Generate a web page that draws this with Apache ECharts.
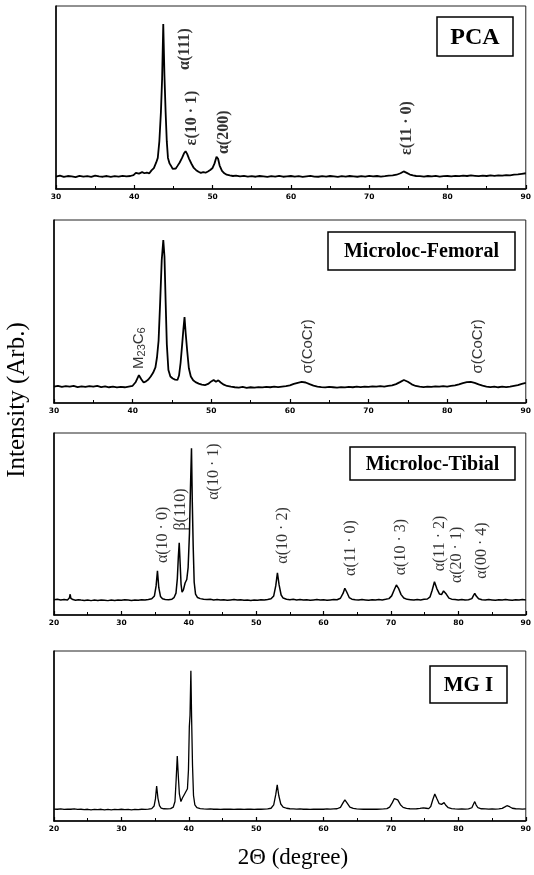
<!DOCTYPE html>
<html>
<head>
<meta charset="utf-8">
<script src="https://cdn.jsdelivr.net/npm/echarts@6/dist/echarts.min.js"></script>
<style>
html,body{margin:0;padding:0;background:#fff;}
#chart{width:534px;height:875px;}
</style>
</head>
<body>
<div id="chart"></div>
<script>
// ---------- DATA (2θ in degrees, intensity in arbitrary units 0-100) ----------
const panelTitles = ['PCA', 'Microloc-Femoral', 'Microloc-Tibial', 'MG I'];
const xRanges = [[30, 90], [30, 90], [20, 90], [20, 90]];
const xTickStep = 10;

const pca = [
[30,6.8],[30.5,7.3],[31,6.6],[31.5,7.1],[32,6.9],[32.5,6.5],[33,7.2],[33.5,6.8],[34,7.0],[34.5,6.6],
[35,7.3],[35.5,6.9],[36,6.7],[36.5,7.1],[37,6.6],[37.5,7.0],[38,6.8],[38.5,7.2],[39,6.9],[39.5,7.1],
[39.9,7.6],[40.2,8.8],[40.6,8.4],[41,9.2],[41.3,8.6],[41.6,9.0],[41.9,8.5],[42.2,10.2],[42.5,11.4],[42.8,14.5],
[43.0,17],[43.2,26],[43.4,42],[43.55,60],[43.7,90.2],[43.85,62],[44.0,42],[44.15,26],[44.3,17],[44.5,14],
[44.7,12.6],[44.9,11],[45.1,10.4],[45.3,11.2],[45.5,12.5],[45.8,14.5],[46.1,17],[46.35,19.5],[46.55,20.6],[46.75,19.2],
[47.0,16.5],[47.3,13.8],[47.6,11.5],[47.9,10.3],[48.2,9.4],[48.5,8.8],[48.8,9.2],[49.1,8.9],[49.4,9.6],[49.7,10.4],
[50.0,11.5],[50.25,14],[50.5,17.6],[50.7,16.5],[50.9,12.8],[51.2,9.9],[51.5,8.6],[51.8,7.8],[52.2,7.4],[52.6,7.1],
[53,7.3],[53.5,6.9],[54,7.2],[54.5,6.8],[55,7.0],[55.5,6.7],[56,7.1],[56.5,6.9],[57,6.6],[57.5,7.0],
[58,6.8],[58.5,7.2],[59,6.7],[59.5,6.9],[60,7.1],[60.5,6.8],[61,7.0],[61.5,6.6],[62,6.9],[62.5,7.2],
[63,6.8],[63.5,6.7],[64,7.0],[64.5,6.8],[65,7.1],[65.5,6.9],[66,6.6],[66.5,7.0],[67,6.8],[67.5,7.1],
[68,6.9],[68.5,6.7],[69,7.0],[69.5,6.8],[70,7.2],[70.5,6.9],[71,7.1],[71.5,6.8],[72,7.0],[72.5,7.3],
[73,7.4],[73.5,7.8],[74.0,8.6],[74.4,9.6],[74.8,8.8],[75.2,7.9],[75.6,7.4],[76,7.1],[76.5,7.0],[77,6.8],
[77.5,7.1],[78,6.9],[78.5,7.2],[79,6.8],[79.5,7.0],[80,7.1],[80.5,6.9],[81,7.2],[81.5,7.0],[82,7.3],
[82.5,7.1],[83,7.4],[83.5,7.2],[84,7.0],[84.5,7.3],[85,7.1],[85.5,7.4],[86,7.2],[86.5,7.5],[87,7.3],
[87.5,7.6],[88,7.5],[88.5,7.8],[89,8.0],[89.5,8.3],[90,8.6]
];

const femoral = [
[30,9.0],[30.5,9.4],[31,8.8],[31.5,9.2],[32,8.9],[32.5,9.3],[33,8.7],[33.5,9.1],[34,8.8],[34.5,9.2],
[35,8.9],[35.5,9.3],[36,8.7],[36.5,9.1],[37,8.6],[37.5,8.9],[38,8.5],[38.5,8.8],[39,8.6],[39.5,9.0],
[40,9.4],[40.4,11.5],[40.8,15.2],[41.1,13.0],[41.4,11.2],[41.7,11.8],[42.0,12.8],[42.3,14.5],[42.6,16.5],[42.9,19.5],
[43.1,25],[43.3,34],[43.5,55],[43.7,78],[43.9,89],[44.05,80],[44.2,55],[44.35,32],[44.55,18],[44.8,14.5],
[45.1,13.4],[45.4,12.8],[45.7,12.6],[45.9,15],[46.1,22],[46.3,32],[46.45,40],[46.6,47],[46.75,38],[46.95,28],
[47.15,19],[47.4,14.5],[47.7,12.4],[48.0,11.4],[48.4,10.6],[48.8,10.0],[49.2,9.8],[49.6,10.4],[50.0,11.8],[50.3,12.6],
[50.6,11.6],[50.9,12.4],[51.2,11.2],[51.6,10.0],[52,9.3],[52.5,8.9],[53,8.6],[53.5,8.4],[54,8.8],[54.5,8.3],
[55,8.6],[55.5,8.4],[56,8.7],[56.5,8.5],[57,8.8],[57.5,8.6],[58,8.9],[58.5,8.7],[59,9.0],[59.5,9.2],
[60,9.6],[60.5,10.4],[61,11.0],[61.5,11.5],[62,11.2],[62.5,10.3],[63,9.5],[63.5,9.0],[64,8.7],[64.5,8.5],
[65,8.8],[65.5,8.6],[66,8.4],[66.5,8.7],[67,8.5],[67.5,8.8],[68,8.6],[68.5,8.9],[69,8.7],[69.5,9.0],
[70,8.8],[70.5,9.1],[71,8.9],[71.5,9.2],[72,9.0],[72.5,9.3],[73,9.6],[73.5,10.3],[74.0,11.4],[74.5,12.6],
[75.0,11.6],[75.5,10.2],[76,9.3],[76.5,8.9],[77,8.7],[77.5,9.0],[78,8.8],[78.5,9.1],[79,8.9],[79.5,9.2],
[80,9.0],[80.5,9.3],[81,9.6],[81.5,10.2],[82,10.9],[82.5,11.4],[83,11.6],[83.5,11.0],[84,10.2],[84.5,9.5],
[85,9.0],[85.5,8.7],[86,9.0],[86.5,8.6],[87,8.9],[87.5,8.7],[88,9.0],[88.5,9.4],[89,9.8],[89.5,10.5],[90,11.0]
];

const tibial = [
[20,8.4],[20.5,8.6],[21,8.2],[21.5,8.5],[22.0,8.3],[22.3,9.5],[22.4,11.4],[22.5,9.2],[22.8,8.5],[23.2,8.1],
[23.6,8.4],[24,8.2],[24.5,8.0],[25,8.3],[25.5,7.9],[26,8.2],[26.5,8.0],[27,8.3],[27.5,8.1],[28,7.9],
[28.5,8.2],[29,8.0],[29.5,8.3],[30,8.1],[30.5,8.4],[31,8.2],[31.5,8.0],[32,8.3],[32.5,8.1],[33,8.4],
[33.5,8.2],[34,8.5],[34.5,8.9],[34.9,10.5],[35.15,16],[35.35,24.3],[35.55,15],[35.8,10.2],[36.1,8.9],[36.5,8.5],
[37,8.4],[37.5,8.7],[37.8,9.5],[38.1,12],[38.3,20],[38.45,32],[38.58,39.7],[38.72,28],[38.85,17],[39.0,12.5],
[39.2,13.8],[39.45,17.6],[39.7,19.5],[39.9,26],[40.1,45],[40.25,70],[40.4,91.6],[40.52,62],[40.65,38],[40.8,18],
[41.0,11.5],[41.3,9.6],[41.7,9.0],[42.2,8.7],[42.7,8.5],[43.2,8.6],[43.7,8.3],[44.2,8.5],[44.7,8.2],[45.2,8.4],
[45.7,8.1],[46.2,8.3],[46.7,8.5],[47.2,8.2],[47.7,8.4],[48.2,8.1],[48.7,8.3],[49.2,8.0],[49.7,8.3],[50.2,8.1],
[50.7,8.4],[51.2,8.2],[51.7,8.5],[52.2,8.9],[52.6,10.5],[52.9,16],[53.15,23.2],[53.4,16.5],[53.7,11],[54.0,9.3],
[54.5,8.7],[55,8.4],[55.5,8.6],[56,8.3],[56.5,8.5],[57,8.2],[57.5,8.4],[58,8.1],[58.5,8.3],[59,8.5],
[59.5,8.2],[60,8.4],[60.5,8.1],[61,8.3],[61.5,8.5],[62,8.4],[62.5,9.2],[62.9,12],[63.15,14.7],[63.45,12.5],
[63.8,9.6],[64.2,8.7],[64.7,8.4],[65.2,8.2],[65.7,8.5],[66.2,8.3],[66.7,8.1],[67.2,8.4],[67.7,8.2],[68.2,8.5],
[68.7,8.3],[69.2,8.6],[69.7,9.0],[70.1,10.5],[70.5,14],[70.8,16.5],[71.1,14.8],[71.5,11.2],[71.9,9.3],[72.4,8.6],
[72.9,8.4],[73.4,8.2],[73.9,8.5],[74.4,8.3],[74.9,8.6],[75.4,8.8],[75.8,10],[76.1,13.5],[76.45,18.3],[76.8,14.5],
[77.2,11.5],[77.5,11.2],[77.8,13.2],[77.98,13.7],[78.2,11.5],[78.6,9.3],[79,8.7],[79.5,8.5],[80,8.3],[80.5,8.5],
[81,8.2],[81.5,8.4],[82.0,9.0],[82.25,10.8],[82.43,11.9],[82.65,10.4],[83.0,8.9],[83.5,8.4],[84,8.2],[84.5,8.5],
[85,8.3],[85.5,8.1],[86,8.4],[86.5,8.2],[87,8.5],[87.5,8.3],[88,8.1],[88.5,8.4],[89,8.2],[89.5,8.5],[90,8.3]
];

const mg1 = [
[20,7.0],[20.5,6.9],[21,7.1],[21.5,6.8],[22,7.0],[22.5,6.9],[23,7.1],[23.5,6.8],[24,6.9],[24.5,6.7],
[25,6.9],[25.5,6.6],[26,6.8],[26.5,6.7],[27,6.9],[27.5,6.6],[28,6.8],[28.5,6.6],[29,6.8],[29.5,6.7],
[30,6.9],[30.5,6.7],[31,6.8],[31.5,6.6],[32,6.8],[32.5,6.7],[33,6.9],[33.5,6.8],[34,7.0],[34.5,7.3],
[34.85,8.8],[35.05,13],[35.23,20.6],[35.42,13.5],[35.65,9.0],[35.9,7.6],[36.3,7.2],[36.8,7.1],[37.3,7.3],[37.7,8.2],
[37.95,11.5],[38.12,24],[38.29,38.2],[38.45,26],[38.6,16],[38.83,11.4],[39.05,13.5],[39.3,15.3],[39.57,16.3],[39.8,19],
[39.95,30],[40.08,55.5],[40.18,62],[40.31,88.4],[40.42,60],[40.55,33],[40.7,15],[40.9,9.5],[41.2,7.8],[41.7,7.3],
[42.2,7.1],[42.7,7.0],[43.2,7.1],[43.7,6.9],[44.2,7.0],[44.7,6.8],[45.2,7.0],[45.7,6.9],[46.2,7.0],[46.7,6.8],
[47.2,6.9],[47.7,7.0],[48.2,6.8],[48.7,6.9],[49.2,7.0],[49.7,6.8],[50.2,7.0],[50.7,6.9],[51.2,7.0],[51.7,7.1],
[52.2,7.5],[52.6,9.5],[52.9,15.5],[53.12,21.2],[53.35,15],[53.65,10],[54.0,8.2],[54.5,7.5],[55,7.2],[55.5,7.1],
[56,7.0],[56.5,7.1],[57,6.9],[57.5,7.0],[58,6.8],[58.5,7.0],[59,6.9],[59.5,7.0],[60,6.9],[60.5,7.1],
[61,7.0],[61.5,7.1],[62,7.2],[62.5,8.0],[62.9,10.8],[63.16,12.4],[63.5,10.5],[63.9,8.2],[64.4,7.4],[64.9,7.1],
[65.4,7.0],[65.9,6.9],[66.4,7.0],[66.9,6.9],[67.4,7.0],[67.9,6.9],[68.4,7.0],[68.9,7.1],[69.4,7.3],[69.8,8.2],
[70.2,10.8],[70.5,13.2],[70.72,13.9],[71.0,12.4],[71.4,9.6],[71.8,8.0],[72.3,7.4],[72.8,7.2],[73.3,7.1],[73.8,7.2],
[74.3,7.4],[74.8,7.7],[75.2,7.5],[75.6,7.3],[75.9,8.5],[76.2,12.5],[76.5,15.9],[76.8,13.2],[77.15,10.2],[77.5,9.8],
[77.75,10.7],[77.88,10.8],[78.1,9.4],[78.5,7.8],[79,7.3],[79.5,7.1],[80,7.0],[80.5,7.1],[81,7.0],[81.5,7.1],
[82.0,7.8],[82.25,10.0],[82.43,11.4],[82.62,9.5],[82.9,7.8],[83.4,7.2],[84,7.1],[84.5,7.0],[85,7.1],[85.5,7.0],
[86,7.1],[86.5,7.4],[86.9,8.3],[87.2,9.0],[87.38,9.0],[87.6,8.4],[88,7.5],[88.5,7.2],[89,7.1],[89.5,7.0],[90,7.1]
];

// peak annotations: [label text, 2θ, intensity-level where label is centred]
const pcaPeakLabels = [
  ['α(111)', 46.5, 76.5], ['ε(10 · 1)', 47.3, 38.8], ['α(200)', 51.4, 31], ['ε(11 · 0)', 74.8, 33.3]
];
const femoralPeakLabels = [
  ['M{s|23}C{s|6}', 40.8, 30], ['σ(CoCr)', 62.3, 30.9], ['σ(CoCr)', 83.9, 30.9]
];
const tibialPeakLabels = [
  ['α(10 · 0)', 36.1, 44], ['β(110)', 38.85, 58], ['α(10 · 1)', 43.65, 78.8], ['α(10 · 2)', 54.0, 43.7],
  ['α(11 · 0)', 64.1, 36.8], ['α(10 · 3)', 71.5, 37.3], ['α(11 · 2)', 77.25, 39.3], ['α(20 · 1)', 79.7, 33],
  ['α(00 · 4)', 83.4, 35.4]
];

const xAxisTitle = '2Θ (degree)';
const yAxisTitle = 'Intensity (Arb.)';

// ---------- LAYOUT ----------
const grids = [
  {left: 56, right: 4, top: 6, height: 183},
  {left: 54, right: 4, top: 220, height: 183},
  {left: 54, right: 8, top: 433, height: 182},
  {left: 54, right: 8, top: 651, height: 170}
];
const lineWidths = [1.8, 1.8, 1.5, 1.3];
const labelWeights = ['bold', 'normal', 'normal', 'normal'];
const boxes = [
  {x: 437, y: 17, w: 76, h: 39, size: 24},
  {x: 328, y: 232, w: 187, h: 38, size: 20},
  {x: 350, y: 447, w: 165, h: 33, size: 20},
  {x: 430, y: 666, w: 77, h: 37, size: 21}
];
const serif = '"Liberation Serif", "Times New Roman", serif';
const sans = '"Liberation Sans", Arial, sans-serif';

const seriesData = [pca, femoral, tibial, mg1];
const labelSets = [pcaPeakLabels, femoralPeakLabels, tibialPeakLabels, []];

const chart = echarts.init(document.getElementById('chart'), null, {renderer: 'canvas'});

const xAxes = grids.map((g, i) => ({
  type: 'value', gridIndex: i, min: xRanges[i][0], max: xRanges[i][1], interval: xTickStep,
  axisLine: {show: true, lineStyle: {color: '#000', width: 1.6}},
  axisTick: {show: true, inside: true, length: 4, lineStyle: {color: '#000', width: 1.2}},
  minorTick: {show: true, splitNumber: 2, length: 3, lineStyle: {color: '#000', width: 1}},
  axisLabel: {show: true, color: '#000', fontFamily: '"DejaVu Sans", sans-serif', fontWeight: 'bold', fontSize: 7.5, margin: 4},
  splitLine: {show: false}
}));
const yAxes = grids.map((g, i) => ({
  type: 'value', gridIndex: i, min: 0, max: 100,
  axisLine: {show: true, lineStyle: {color: '#000', width: 1.5}},
  axisTick: {show: false}, axisLabel: {show: false}, splitLine: {show: false}
}));

const series = [];
seriesData.forEach((d, i) => {
  series.push({
    type: 'line', xAxisIndex: i, yAxisIndex: i, data: d, showSymbol: false, symbol: 'none',
    lineStyle: {color: '#000', width: lineWidths[i]}, animation: false, silent: true
  });
});
labelSets.forEach((set, i) => {
  if (!set.length) return;
  const useSans = (i === 1);
  series.push({
    type: 'scatter', xAxisIndex: i, yAxisIndex: i, symbolSize: 0, animation: false, silent: true,
    data: set.map(l => ({value: [l[1], l[2]], name: l[0]})),
    label: {
      show: true, position: 'inside', rotate: 90, formatter: p => p.name,
      color: '#000', fontFamily: useSans ? sans : serif, fontSize: useSans ? 15 : 16,
      fontWeight: labelWeights[i],
      align: 'center', verticalAlign: 'middle',
      rich: {s: {fontFamily: sans, fontSize: 11, color: '#000', verticalAlign: 'bottom', padding: [6, 0, 0, 0]}}
    }
  });
});

const graphics = [];
boxes.forEach((b, i) => {
  graphics.push({type: 'rect', shape: {x: b.x, y: b.y, width: b.w, height: b.h},
    style: {fill: '#fff', stroke: '#000', lineWidth: 1.5}, z: 10});
  graphics.push({type: 'text', x: b.x + b.w / 2, y: b.y + b.h / 2 + 1, z: 11,
    style: {text: panelTitles[i], font: 'bold ' + b.size + 'px ' + serif, fill: '#000',
      align: 'center', verticalAlign: 'middle', textAlign: 'center', textVerticalAlign: 'middle'}});
});
graphics.push({type: 'text', x: 293, y: 858, z: 11,
  style: {text: xAxisTitle, font: '23px ' + serif, fill: '#000', align: 'center', verticalAlign: 'middle',
    textAlign: 'center', textVerticalAlign: 'middle'}});
graphics.push({type: 'text', x: 17, y: 400, rotation: Math.PI / 2, z: 11,
  style: {text: yAxisTitle, font: '25px ' + serif, fill: '#000', align: 'center', verticalAlign: 'middle',
    textAlign: 'center', textVerticalAlign: 'middle'}});

chart.setOption({
  backgroundColor: '#fff',
  animation: false,
  grid: grids.map(g => Object.assign({show: true, borderColor: '#222', borderWidth: 1, backgroundColor: 'transparent'}, g)),
  xAxis: xAxes,
  yAxis: yAxes,
  series: series,
  graphic: graphics
});
</script>
</body>
</html>
